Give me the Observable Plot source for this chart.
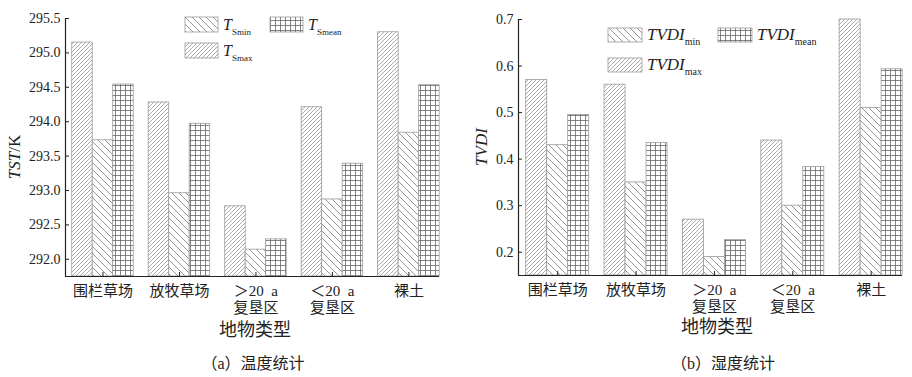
<!DOCTYPE html>
<html><head><meta charset="utf-8">
<script src="https://cdn.jsdelivr.net/npm/d3@7"></script>
<script src="https://cdn.jsdelivr.net/npm/@observablehq/plot@0.6"></script>
<style>
body{margin:0;background:#fff;width:912px;height:377px;position:relative;overflow:hidden;font-family:"Liberation Serif","Noto Sans CJK SC",serif;color:#222}
.chart{position:absolute;top:0}
#overlay{position:absolute;left:0;top:0;pointer-events:none}
</style></head><body>
<svg width="0" height="0" style="position:absolute">
<defs>
<pattern id="pmax" patternUnits="userSpaceOnUse" width="4" height="4"><rect width="4" height="4" fill="#fff"/><path d="M-1,1 l2,-2 M0,4 l4,-4 M3,5 l2,-2" stroke="#8a8a8a" stroke-width="0.7"/></pattern>
<pattern id="pmin" patternUnits="userSpaceOnUse" width="7" height="7"><rect width="7" height="7" fill="#fff"/><path d="M0,0 L7,7 M-1,6 L1,8 M6,-1 L8,1" stroke="#7a7a7a" stroke-width="0.8"/></pattern>
<pattern id="pmean" patternUnits="userSpaceOnUse" width="5" height="5"><rect width="5" height="5" fill="#fff"/><path d="M0,0.5 H5 M0.5,0 V5" stroke="#666" stroke-width="0.8"/></pattern>
</defs>
</svg>
<div id="left" class="chart" style="left:0"></div>
<div id="right" class="chart" style="left:460px"></div>
<svg id="overlay" width="912" height="377"></svg>
<script>
// ---- data ----
const categories = ["围栏草场", "放牧草场", "＞20\u2002a\n复垦区", "＜20\u2002a\n复垦区", "裸土"];
const seriesKeys = ["max", "min", "mean"];
const tsMax  = [295.15, 294.28, 292.77, 294.21, 295.30];
const tsMin  = [293.73, 292.96, 292.14, 292.87, 293.84];
const tsMean = [294.54, 293.97, 292.29, 293.39, 294.53];
const tvdiMax  = [0.57, 0.56, 0.27, 0.44, 0.70];
const tvdiMin  = [0.43, 0.35, 0.19, 0.30, 0.51];
const tvdiMean = [0.495, 0.435, 0.226, 0.383, 0.593];
const tsTicks = [292.0, 292.5, 293.0, 293.5, 294.0, 294.5, 295.0, 295.5];
const tvdiTicks = [0.2, 0.3, 0.4, 0.5, 0.6, 0.7];

const fills = {max: "url(#pmax)", min: "url(#pmin)", mean: "url(#pmean)"};
const FONT = '"Liberation Serif","Noto Sans CJK SC",serif';

function rowsOf(maxA, minA, meanA) {
  const src = {max: maxA, min: minA, mean: meanA};
  const rows = [];
  categories.forEach((c, i) => seriesKeys.forEach((s, j) => rows.push({i, j, s, value: src[s][i]})));
  return rows;
}

function chart({rows, yDomain, yTicks, yFmt, width, height, marginLeft, marginRight, marginTop, marginBottom, xDomain}) {
  const bw = 0.268;
  const idx = categories.map((c, i) => i);
  const svg = Plot.plot({
    width, height, marginLeft, marginRight, marginTop, marginBottom,
    style: `font-family: ${FONT}; font-size: 14px; color: #222; background: transparent;`,
    x: {type: "linear", domain: xDomain, axis: null},
    y: {domain: yDomain, axis: null},
    color: {type: "identity"},
    marks: [
      Plot.rectY(rows, {
        x1: d => d.i + (d.j - 1) * bw - bw / 2,
        x2: d => d.i + (d.j - 1) * bw + bw / 2,
        y1: yDomain[0], y2: "value",
        fill: d => fills[d.s], stroke: "#9a9a9a", strokeWidth: 0.8
      }),
      Plot.axisY({ticks: yTicks, tickSize: 4, dx: 4, tickFormat: () => "", label: null, stroke: "#222"}),
      Plot.axisY({ticks: yTicks, tickSize: 0, tickPadding: 5, tickFormat: yFmt, label: null, fontSize: 14, fontFamily: FONT}),
      Plot.axisX({ticks: idx, tickSize: 4, dy: -4, tickFormat: () => "", label: null, stroke: "#222"}),
      Plot.axisX({ticks: idx, tickSize: 0, tickPadding: 7, tickFormat: i => categories[i], label: null, fontSize: 15, lineHeight: 1.15, fontFamily: FONT}),
      Plot.ruleX([xDomain[0]], {stroke: "#222", strokeWidth: 1.2}),
      Plot.ruleY([yDomain[0]], {stroke: "#222", strokeWidth: 1.2})
    ]
  });
  svg.setAttribute("font-family", FONT);
  return svg;
}

document.getElementById("left").append(chart({
  rows: rowsOf(tsMax, tsMin, tsMean),
  yDomain: [291.75, 295.5], yTicks: tsTicks, yFmt: d3.format(".1f"),
  width: 456, height: 320, marginLeft: 65, marginRight: 17, marginTop: 18, marginBottom: 44,
  xDomain: [-0.49, 4.4]
}));
document.getElementById("right").append(chart({
  rows: rowsOf(tvdiMax, tvdiMin, tvdiMean),
  yDomain: [0.15, 0.7], yTicks: tvdiTicks, yFmt: d3.format(".1f"),
  width: 452, height: 320, marginLeft: 58, marginRight: 10, marginTop: 19, marginBottom: 45,
  xDomain: [-0.5, 4.4]
}));

// ---- overlay texts & legends ----
const ov = d3.select("#overlay").attr("font-family", FONT).attr("fill", "#222");
function legendItem(x, y, w, h, pat, main, sub, mainSize, subSize) {
  ov.append("rect").attr("x", x).attr("y", y).attr("width", w).attr("height", h)
    .attr("fill", pat).attr("stroke", "#9a9a9a").attr("stroke-width", 0.8);
  const t = ov.append("text").attr("x", x + w + 5).attr("y", y + h - 2);
  t.append("tspan").attr("font-style", "italic").attr("font-size", mainSize).text(main);
  t.append("tspan").attr("font-size", subSize).attr("dy", 5).text(sub);
}
legendItem(185, 17, 33, 15, fills.min, "T", "Smin", 16, 9);
legendItem(270, 17, 33, 15, fills.mean, "T", "Smean", 16, 9);
legendItem(185, 43, 33, 15, fills.max, "T", "Smax", 16, 9);
legendItem(608, 28, 34, 14, fills.min, "TVDI", "min", 17, 10);
legendItem(718, 28, 34, 14, fills.mean, "TVDI", "mean", 17, 10);
legendItem(608, 58, 34, 14, fills.max, "TVDI", "max", 17, 10);

const yt1 = ov.append("text").attr("transform", "translate(20,157) rotate(-90)").attr("text-anchor", "middle").attr("font-size", 17);
yt1.append("tspan").attr("font-style", "italic").text("TST");
yt1.append("tspan").text("/K");
ov.append("text").attr("transform", "translate(487,147) rotate(-90)").attr("text-anchor", "middle")
  .attr("font-size", 17).attr("font-style", "italic").text("TVDI");

function center(x, y, s, size) {
  ov.append("text").attr("x", x).attr("y", y).attr("text-anchor", "middle").attr("dominant-baseline", "central")
    .attr("font-size", size).text(s);
}
center(255, 330, "地物类型", 18);
center(717, 327, "地物类型", 18);
center(253, 363, "（a）温度统计", 16);
center(723, 363, "（b）湿度统计", 16);
</script>
</body></html>
